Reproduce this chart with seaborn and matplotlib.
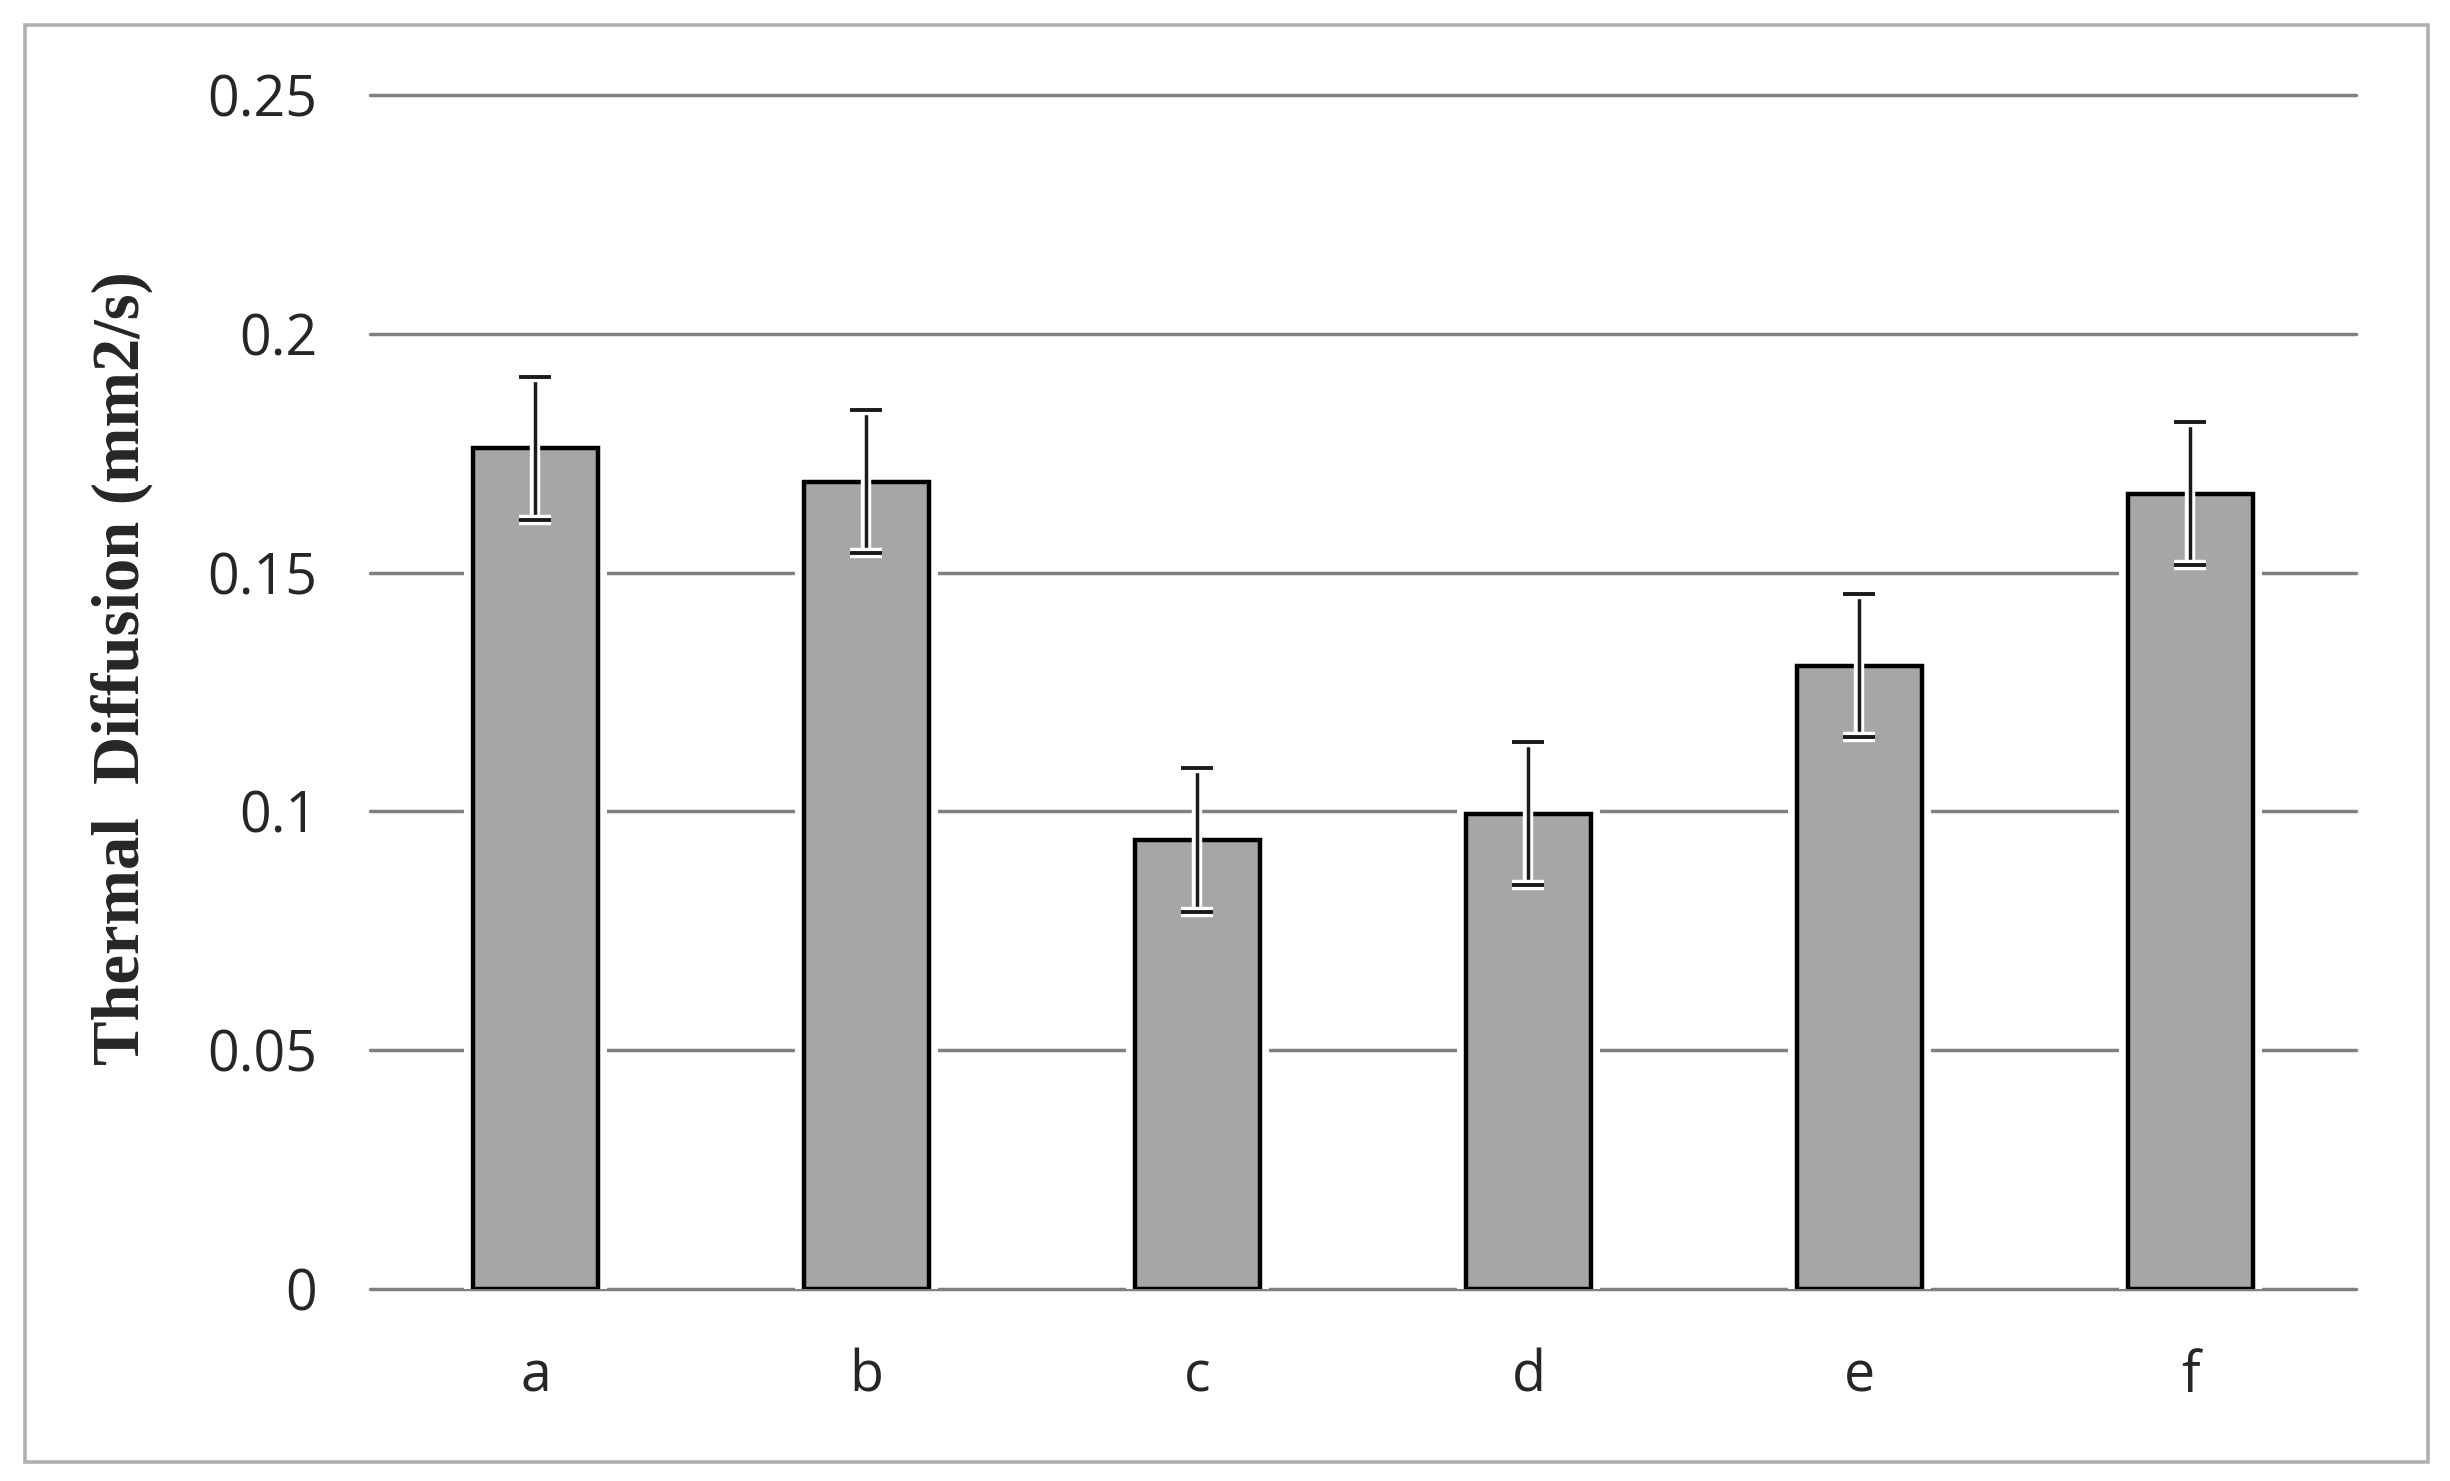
import numpy as np
import pandas as pd
import matplotlib
matplotlib.use("Agg")
import matplotlib.pyplot as plt
import matplotlib.patheffects as pe
from matplotlib.patches import Rectangle
import seaborn as sns

# data
samples = ["a", "b", "c", "d", "e", "f"]
diffusion = [0.176, 0.169, 0.094, 0.0995, 0.1305, 0.1665]
errors = [0.015, 0.015, 0.015, 0.015, 0.015, 0.015]
y_ticks = [0, 0.05, 0.1, 0.15, 0.2, 0.25]
y_tick_labels = ["0", "0.05", "0.1", "0.15", "0.2", "0.25"]

df = pd.DataFrame({"Sample": samples, "Diffusion": diffusion, "Err": errors})

sns.set_style("white")
plt.rcParams["font.family"] = ["Open Sans", "DejaVu Sans"]

fig = plt.figure(figsize=(24.5, 14.81), dpi=100)
ax = fig.add_axes([0.151, 0.1296, 0.8106, 0.8063])

# gridlines first so bars sit on top
for y in y_ticks:
    ax.axhline(y, color="#808080", lw=2.5, zorder=1, clip_on=False)

sns.barplot(data=df, x="Sample", y="Diffusion", color="#A6A6A6", width=0.38,
            saturation=1, edgecolor="black", linewidth=3.2, errorbar=None,
            ax=ax, zorder=3)
for bar in ax.patches:
    bar.set_path_effects([pe.Stroke(linewidth=13, foreground="white"), pe.Normal()])

eb = ax.errorbar(np.arange(len(samples)), df["Diffusion"], yerr=df["Err"],
                 fmt="none", ecolor="#1a1a1a", elinewidth=2.5, capsize=11.5,
                 capthick=2.8, zorder=5)
glow = [pe.Stroke(linewidth=7.5, foreground="white"), pe.Normal()]
for ln in eb.lines[1]:
    ln.set_path_effects(glow)
for lc in eb.lines[2]:
    lc.set_path_effects(glow)

ax.set_xlim(-0.5, len(samples) - 0.5)
ax.set_ylim(0, 0.25)
ax.set_yticks(y_ticks)
ax.set_yticklabels(y_tick_labels)
ax.tick_params(axis="y", length=0, pad=38, labelsize=40)
ax.tick_params(axis="x", length=0, pad=43, labelsize=40)
for s in ax.spines.values():
    s.set_visible(False)

ax.set_xlabel("")
ax.set_ylabel("Thermal  Diffusion (mm2/s)", fontsize=48, fontweight="bold",
              family=["Liberation Serif", "DejaVu Serif"])
ax.yaxis.set_label_coords(-0.125, 0.52)
ax.yaxis.label.set_va("center")

# outer frame like the exported chart area
fig.patches.append(Rectangle((0.0102, 0.0128), 0.9808, 0.9703,
                             transform=fig.transFigure, fill=False,
                             edgecolor="#B0B0B0", lw=2.6, zorder=0))

fig.savefig("out.png", dpi=100)
